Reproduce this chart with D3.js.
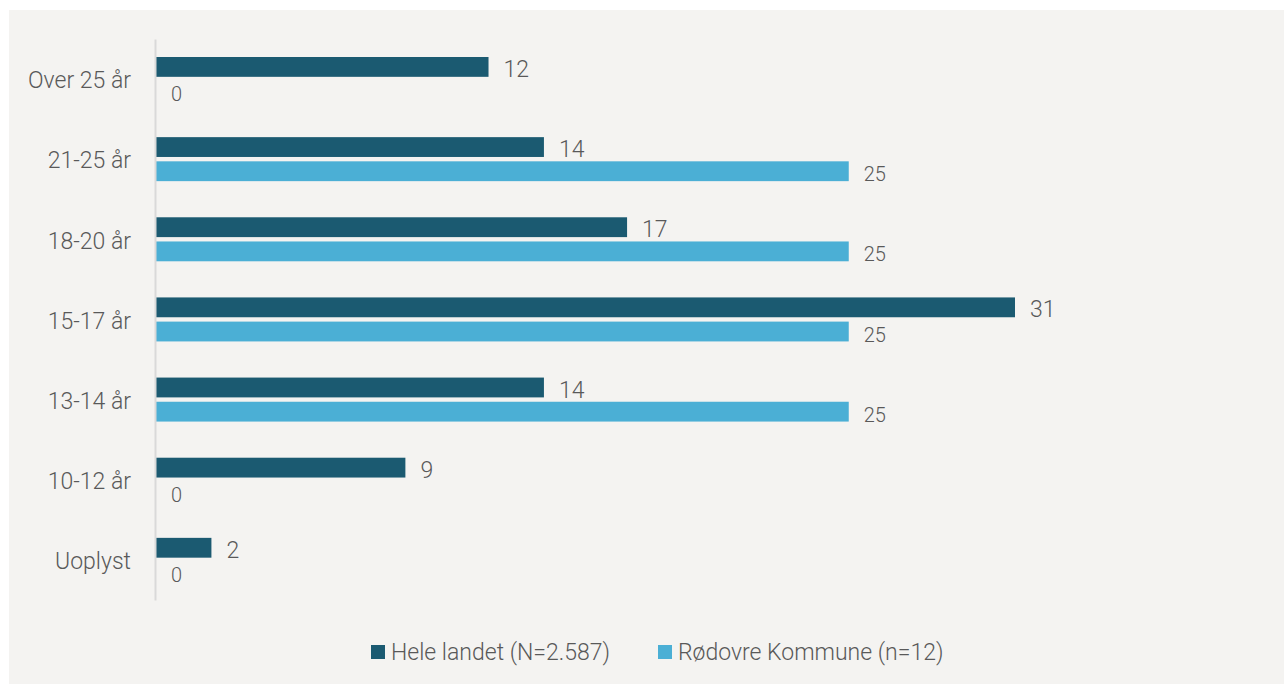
<!DOCTYPE html>
<html>
<head>
<meta charset="utf-8">
<script src="https://cdn.jsdelivr.net/npm/d3@7"></script>
<style>
  html, body { margin: 0; padding: 0; background: #ffffff; }
  svg text { font-family: Roboto, "Open Sans", sans-serif; font-weight: 300; fill: #595959; }
</style>
</head>
<body>
<svg id="chart" width="1284" height="684"></svg>
<script>
const categories = ["Over 25 år", "21-25 år", "18-20 år", "15-17 år", "13-14 år", "10-12 år", "Uoplyst"];
const seriesNames = ["Hele landet (N=2.587)", "Rødovre Kommune (n=12)"];
const heleLandet = [12, 14, 17, 31, 14, 9, 2];
const roedovre = [0, 25, 25, 25, 25, 0, 0];
const colors = ["#1b5a71", "#4bafd5"];

const svg = d3.select("#chart");

// panel background
svg.append("rect").attr("x", 9).attr("y", 10).attr("width", 1275).attr("height", 674).attr("fill", "#f4f3f1");

const x = d3.scaleLinear().domain([0, 31]).range([156, 1015]);
const y = d3.scaleBand().domain(categories).range([39, 600]);
const sub = d3.scaleBand().domain([0, 1]).range([18, 62]).paddingInner(0.18);

const series = [heleLandet, roedovre];
const rows = [];
categories.forEach((c, i) => series.forEach((s, k) => rows.push({ cat: c, k: k, v: s[i] })));

const g = svg.append("g");
g.selectAll("rect.bar").data(rows).join("rect")
  .attr("class", "bar")
  .attr("x", x(0))
  .attr("y", d => y(d.cat) + sub(d.k))
  .attr("width", d => x(d.v) - x(0))
  .attr("height", sub.bandwidth())
  .attr("fill", d => colors[d.k]);

g.selectAll("text.val").data(rows).join("text")
  .attr("class", "val")
  .attr("x", d => x(d.v) + 15)
  .attr("y", d => y(d.cat) + sub(d.k) + sub.bandwidth() / 2)
  .attr("dy", d => d.k === 0 ? "0.44em" : "0.5em")
  .attr("font-size", d => d.k === 0 ? 23 : 20)
  .text(d => d.v);

// axis
const axis = d3.axisLeft(y).tickSize(0).tickPadding(24);
const ag = svg.append("g").attr("transform", "translate(155,0)").call(axis);
ag.select(".domain").attr("stroke", "#d9d9d9").attr("stroke-width", 2);
ag.selectAll("text").attr("font-size", 23).attr("font-family", null).attr("dy", "0.4em");
ag.attr("font-family", null).attr("font-size", null);

// legend
const legendX = [371, 658];
const lg = svg.append("g");
seriesNames.forEach((n, k) => {
  lg.append("rect").attr("x", legendX[k]).attr("y", 645).attr("width", 14).attr("height", 14).attr("fill", colors[k]);
  lg.append("text").attr("x", legendX[k] + 20).attr("y", 660).attr("font-size", 23).text(n);
});
</script>
</body>
</html>
